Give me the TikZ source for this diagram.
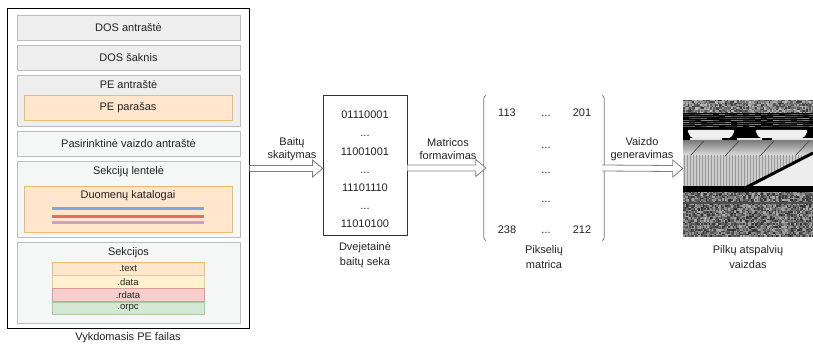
\documentclass[tikz,border=0pt]{standalone}
\usepackage{fontspec}
\setmainfont{Liberation Sans}
\usetikzlibrary{calc,decorations.pathreplacing,patterns,positioning}
\definecolor{boxgray}{HTML}{EEEEEE}
\definecolor{boxlight}{HTML}{F5F6F6}
\definecolor{boxline}{HTML}{BDBDBD}
\definecolor{orfill}{HTML}{FFE6CC}
\definecolor{orline}{HTML}{EDBB6B}
\definecolor{yelfill}{HTML}{FFF2CC}
\definecolor{yelline}{HTML}{E4CD83}
\definecolor{redfill}{HTML}{F8CECC}
\definecolor{redline}{HTML}{D99A98}
\definecolor{grnfill}{HTML}{D5E8D4}
\definecolor{grnline}{HTML}{A9CC9C}
\definecolor{dirblue}{HTML}{7EA6E0}
\definecolor{dirred}{HTML}{EA6B66}
\definecolor{dirpurple}{HTML}{CDA2BE}
\definecolor{txt}{HTML}{222222}
\tikzset{
  every node/.style={text=txt, font=\fontsize{11}{13}\selectfont},
  outerbox/.style={draw, line width=1pt, minimum width=242pt, minimum height=319pt, inner sep=0pt},
  partbox/.style={draw=boxline, fill=boxgray, line width=0.8pt, minimum width=223pt, inner sep=0pt},
  lightbox/.style={partbox, fill=boxlight},
  orangebox/.style={draw=orline, fill=orfill, line width=0.8pt, minimum width=208pt, minimum height=25pt, inner sep=0pt},
  secrow/.style={line width=0.6pt, minimum width=152pt, minimum height=12.7pt, inner sep=0pt, font=\fontsize{9.5}{10}\selectfont},
  dirline/.style={minimum width=152pt, minimum height=3pt, inner sep=0pt},
  seqbox/.style={draw=black!80, line width=0.8pt, minimum width=84pt, minimum height=140pt},
  caption/.style={align=center, font=\fontsize{11}{15}\selectfont},
  arrowlbl/.style={align=center, font=\fontsize{11}{13}\selectfont},
  bracket/.style={draw=black!55, line width=0.8pt, decorate, decoration={brace, amplitude=4pt}},
  blockarrow/.style={draw=black!50, fill=white, line width=0.8pt, line join=miter},
}
\newcommand{\blockarrow}[2]{%
  \draw[blockarrow] ($(#1)+(0,-3)$) -- ($(#2)+(-10,-3)$) -- ($(#2)+(-10,-8.5)$)
    -- (#2) -- ($(#2)+(-10,8.5)$) -- ($(#2)+(-10,3)$) -- ($(#1)+(0,3)$);}

\begin{document}
\begin{tikzpicture}[x=1pt, y=-1pt]
  \useasboundingbox (0,0) rectangle (813,344);

  % PE file
  \node[outerbox] (pefile) at (128,168.5) {};
  \node[partbox, minimum height=25pt] (doshdr) at (128.5,27.5) {DOS antraštė};
  \node[partbox, minimum height=25pt] (dosstub) at (128.5,57.5) {DOS šaknis};
  \node[partbox, minimum height=51pt] (pehdr) at (128.5,100.5) {};
  \node (pehdrlbl) at (128.5,85) {PE antraštė};
  \node[orangebox] (pesig) at (128,107.5) {PE parašas};
  \node[lightbox, minimum height=25pt] (opthdr) at (128.5,143.5) {Pasirinktinė vaizdo antraštė};

  % Section table
  \node[lightbox, minimum height=76pt] (sectab) at (128.5,199) {};
  \node (sectablbl) at (128.5,172) {Sekcijų lentelė};
  \node[orangebox, minimum height=46pt] (datadir) at (128,209) {};
  \node (datadirlbl) at (128,196) {Duomenų katalogai};
  \node[dirline, fill=dirblue] (dirA) at (128,209) {};
  \node[dirline, fill=dirred] (dirB) at (128,216.5) {};
  \node[dirline, fill=dirpurple] (dirC) at (128,222.5) {};

  % Sections
  \node[lightbox, minimum height=81pt] (sects) at (128.5,282.5) {};
  \node (sectslbl) at (128.5,253) {Sekcijos};
  \node[secrow, draw=orline, fill=orfill] (stext) at (128,268.5) {.text};
  \node[secrow, draw=yelline, fill=yelfill, below=0pt of stext] (sdata) {.data};
  \node[secrow, draw=redline, fill=redfill, below=0pt of sdata] (srdata) {.rdata};
  \node[secrow, draw=grnline, fill=grnfill, below=0pt of srdata] (sorpc) {.orpc};
  \node (pecap) at (128,337.5) {Vykdomasis PE failas};

  % Byte sequence
  \node[seqbox] (seq) at (365,165) {};
  \node[align=center, font=\fontsize{11}{18.2}\selectfont] (seqtxt) at (365,169.5)
    {01110001\\...\\11001001\\...\\11101110\\...\\11010100};
  \node[caption] (seqcap) at (365,255) {Dvejetainė\\baitų seka};

  % Pixel matrix
  \node[minimum width=116pt, minimum height=145pt, inner sep=0pt] (mat) at (544,168) {};
  \draw[bracket] (mat.south west) -- (mat.north west);
  \draw[bracket] (mat.north east) -- (mat.south east);
  \node[anchor=base] (m11) at (507,117) {113};
  \node[anchor=base] (m12) at (546,117) {...};
  \node[anchor=base] (m13) at (582,117) {201};
  \node[anchor=base] (m22) at (546,148.5) {...};
  \node[anchor=base] (m32) at (546,173.5) {...};
  \node[anchor=base] (m42) at (546,202.5) {...};
  \node[anchor=base] (m51) at (507,234) {238};
  \node[anchor=base] (m52) at (546,234) {...};
  \node[anchor=base] (m53) at (582,234) {212};
  \node[caption] (matcap) at (544,257) {Pikselių\\matrica};

  % Grayscale image
  \node[minimum width=130pt, minimum height=137pt, inner sep=0pt] (img) at (748,168.5) {};
  \begin{scope}
    \clip (683,100) rectangle (813,237);
    \fill[black] (683,100) rectangle (813,237);
    \pgfmathsetseed{7}
    \foreach \i in {0,...,86}{
      \foreach \j in {0,...,8}{
        \pgfmathtruncatemacro{\g}{25+55*rnd}
        \fill[black!\g] (683+1.5*\i,100+1.5*\j) rectangle ++(1.5,1.5);
      }
    }
    \foreach \i in {0,...,21}{
      \foreach \j in {0,...,6}{
        \pgfmathtruncatemacro{\g}{45+55*rnd}
        \fill[black!\g] (683+6*\i,114+2*\j) rectangle ++(6,1.4);
      }
    }
    \fill[black!6, rounded corners=2pt] (687,130) -- (735,130) -- (731,138) -- (691,138) -- cycle;
    \fill[black!6, rounded corners=2pt] (755,130) -- (808,130) -- (804,138) -- (759,138) -- cycle;
    \fill[black!10] (690,138.5) rectangle (722,141);
    \fill[black!10] (737,138.5) rectangle (762,141);
    \fill[black!10] (772,138.5) rectangle (813,141);
    \shade[top color=black!50, bottom color=black!12] (683,141) rectangle (813,156);
    \foreach \xx in {690,725,760,795}
      \draw[black!75, line width=0.6pt] (\xx,156) -- (\xx+14,141);
    \fill[black!20] (683,156) rectangle (813,187);
    \fill[pattern=vertical lines, pattern color=black!40] (683,156) rectangle (813,187);
    \fill[black!7] (748,187) -- (813,154) -- (813,187) -- cycle;
    \draw[black, line width=3pt] (745,188) -- (813,153);
    \fill[black] (683,186.5) rectangle (813,192);
    \foreach \i in {0,...,86}{
      \foreach \j in {0,...,30}{
        \pgfmathtruncatemacro{\g}{30+55*rnd}
        \fill[black!\g] (683+1.5*\i,192+1.5*\j) rectangle ++(1.5,1.5);
      }
    }
    \fill[black!70] (683,202.5) rectangle (813,203.8);
  \end{scope}
  \node[caption] (imgcap) at (748,257) {Pilkų atspalvių\\vaizdas};

  % Arrows
  \coordinate (a1) at (pefile.east -| seq.west);
  \coordinate (a2) at (seq.east |- mat.west);
  \blockarrow{pefile.east}{a1}
  \blockarrow{a2}{mat.west}
  \blockarrow{mat.east}{img.west}
  \node[arrowlbl] (lblread) at (292,149.5) {Baitų\\skaitymas};
  \node[arrowlbl] (lblmat) at (448,149.5) {Matricos\\formavimas};
  \node[arrowlbl] (lblimg) at (642,149.5) {Vaizdo\\generavimas};
\end{tikzpicture}
\end{document}
